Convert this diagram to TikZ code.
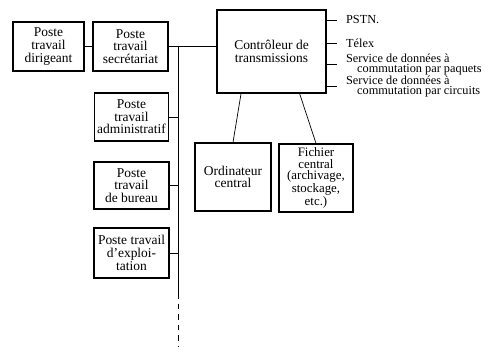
\documentclass[tikz,border=0pt]{standalone}
\usepackage{fontspec}
\setmainfont{Liberation Serif}
\usetikzlibrary{positioning}

\begin{document}
\begin{tikzpicture}[x=0.03cm,y=-0.03cm,
    every node/.style={font=\fontsize{11.5}{10.8}\selectfont},
    poste/.style={draw,line width=1pt,align=center,inner sep=1pt,minimum width=2.25cm,minimum height=1.47cm},
    ligne/.style={line width=0.6pt},
    reseau/.style={anchor=west,align=left,inner xsep=7.6pt,inner ysep=0pt,font=\fontsize{10.5}{9.2}\selectfont}]

\useasboundingbox (0,0) rectangle (486,347);

% postes de travail
\node[poste,minimum width=2.13cm] (dirigeant) at (48.5,46.5) {Poste\\travail\\dirigeant};
\node[poste] (secretariat) at (130.5,46.5) {Poste\\travail\\secrétariat};
\node[poste,minimum width=2.22cm,minimum height=1.44cm] (admin) at (131.5,117) {Poste\\travail\\administratif};
\node[poste,minimum height=1.41cm] (bureau) at (131.5,185.5) {Poste\\travail\\de bureau};
\node[poste,minimum height=1.5cm] (exploit) at (131.5,253) {Poste travail\\d'exploi-\\tation};

% centre
\node[poste,minimum width=3.27cm,minimum height=2.49cm] (ctrl) at (271.5,51.5) {Contrôleur de\\transmissions};
\node[poste,minimum width=2.28cm,minimum height=2.04cm] (ordi) at (233,177) {Ordinateur\\central};
\node[poste,minimum width=2.22cm,minimum height=2.04cm,font=\fontsize{11}{9.9}\selectfont] (fichier) at (316,178) {Fichier\\central\\(archivage,\\stockage,\\etc.)};

% reseaux
\node[reseau] (pstn) at (337,20) {PSTN.};
\node[reseau] (telex) at (337,43) {Télex};
\node[reseau] (paquets) at (337,64.5) {Service de données à\\\hspace*{0.9em}commutation par paquets};
\node[reseau] (circuits) at (337,86.5) {Service de données à\\\hspace*{0.9em}commutation par circuits};

% bus
\coordinate (bus) at (178,47);
\coordinate (busfin) at (178,293);
\coordinate (buspied) at (178,347);

\draw[ligne] (dirigeant) -- (secretariat);
\draw[ligne] (secretariat.east) -- (secretariat.east -| ctrl.west);
\draw[ligne] (bus) -- (busfin);
\draw[ligne,dash pattern=on 5pt off 4pt] (busfin) -- (buspied);
\foreach \p in {admin,bureau,exploit}
  \draw[ligne] (\p.east) -- (\p.east -| bus);
\foreach \r in {pstn,telex,paquets,circuits}
  \draw[ligne] (\r.west -| ctrl.east) -- (\r.west);
\draw[ligne] ([xshift=-26pt]ctrl.south) -- (ordi.north);
\draw[ligne] ([xshift=24pt]ctrl.south) -- (fichier.north);

\end{tikzpicture}
\end{document}
